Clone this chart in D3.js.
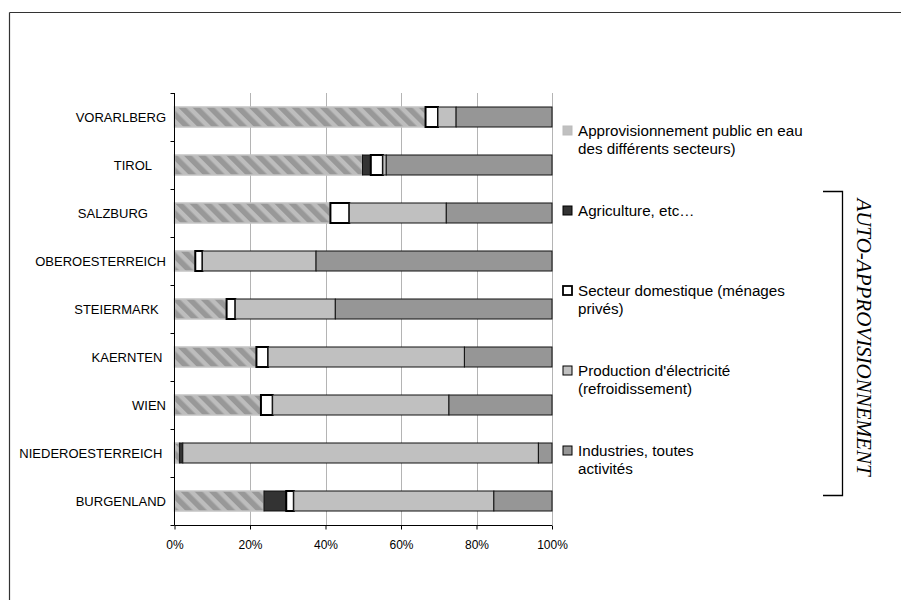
<!DOCTYPE html>
<html>
<head>
<meta charset="utf-8">
<script src="https://cdn.jsdelivr.net/npm/d3@7"></script>
<style>
  html, body { margin: 0; padding: 0; background: #fff; }
  svg { display: block; font-family: "Liberation Sans", Arial, sans-serif; }
</style>
</head>
<body>
<svg id="chart" width="901" height="600"></svg>
<script>
// ---- data ----
// category labels as in the source sheet (some carry trailing spaces)
const categories = ["VORARLBERG", "TIROL    ", "SALZBURG     ", "OBEROESTERREICH", "STEIERMARK  ",
                    "KAERNTEN ", "WIEN", "NIEDEROESTERREICH ", "BURGENLAND"];
const publicSupply = [66.5, 49.8, 41.3, 5.5, 13.8, 21.7, 22.9, 1.3, 23.7];
const agriculture  = [0, 2.2, 0, 0, 0, 0, 0, 0.9, 5.9];
const domestic     = [3.3, 3.2, 5.0, 1.9, 2.3, 3.1, 3.1, 0, 2.0];
const electricity  = [4.8, 0.9, 25.7, 30.1, 26.5, 52.0, 46.7, 94.2, 53.0];
const industry     = [25.4, 43.9, 28.0, 62.5, 57.4, 23.2, 27.3, 3.6, 15.4];
const seriesNames = [
  ["Approvisionnement public en eau", "des différents secteurs)"],
  ["Agriculture, etc…"],
  ["Secteur domestique (ménages", "privés)"],
  ["Production d'électricité", "(refroidissement)"],
  ["Industries, toutes", "activités"]
];
const xTicks = [0, 20, 40, 60, 80, 100];
const bracketLabel = "AUTO-APPROVISIONNEMENT";

// ---- build table ----
const keys = ["pub", "agr", "dom", "ele", "ind"];
const table = categories.map((c, i) => ({
  cat: c, pub: publicSupply[i], agr: agriculture[i], dom: domestic[i],
  ele: electricity[i], ind: industry[i]
}));
const stacked = d3.stack().keys(keys)(table);

const styles = {
  pub: { fill: "url(#hatch)", stroke: "#c4c4c4", sw: 1.5 },
  agr: { fill: "#333333", stroke: "#111", sw: 1 },
  dom: { fill: "#ffffff", stroke: "#000", sw: 2 },
  ele: { fill: "#c0c0c0", stroke: "#111", sw: 1 },
  ind: { fill: "#969696", stroke: "#111", sw: 1 }
};

const svg = d3.select("#chart");
const defs = svg.append("defs");
const pat = defs.append("pattern")
  .attr("id", "hatch").attr("patternUnits", "userSpaceOnUse")
  .attr("width", 10).attr("height", 10)
  .attr("patternTransform", "rotate(-45)");
pat.append("rect").attr("width", 10).attr("height", 10).attr("fill", "#bdbdbd");
pat.append("rect").attr("width", 5.5).attr("height", 10).attr("fill", "#989898");

// outer frame
svg.append("line").attr("x1", 9.5).attr("y1", 12.5).attr("x2", 901).attr("y2", 12.5)
  .attr("stroke", "#333").attr("stroke-width", 1.2);
svg.append("line").attr("x1", 9.5).attr("y1", 12.5).attr("x2", 9.5).attr("y2", 600)
  .attr("stroke", "#333").attr("stroke-width", 1.2);

const x = d3.scaleLinear().domain([0, 100]).range([174.5, 552]);
const y = d3.scaleBand().domain(categories).range([93, 525])
  .paddingInner(28 / 48).paddingOuter(14 / 48);

// gridlines
svg.append("g").selectAll("line").data(xTicks.filter(t => t > 0)).join("line")
  .attr("x1", d => Math.round(x(d)) + 0.5).attr("x2", d => Math.round(x(d)) + 0.5)
  .attr("y1", 93).attr("y2", 525)
  .attr("stroke", "#b4b4b4").attr("stroke-width", 1);

// bars
const gBars = svg.append("g");
stacked.forEach(layer => {
  const st = styles[layer.key];
  gBars.append("g").selectAll("rect")
    .data(layer.filter(d => d[1] - d[0] > 0))
    .join("rect")
    .attr("x", d => x(d[0]))
    .attr("width", d => x(d[1]) - x(d[0]))
    .attr("y", d => y(d.data.cat))
    .attr("height", y.bandwidth())
    .attr("fill", st.fill)
    .attr("stroke", st.stroke)
    .attr("stroke-width", st.sw);
});

// y axis
const yAxis = d3.axisLeft(y).tickSize(0).tickFormat(() => "");
const gy = svg.append("g").attr("transform", "translate(174.5,0)").call(yAxis);
gy.select(".domain").attr("stroke", "#000").attr("d", "M0,93V525.5");
// boundary ticks
const bounds = d3.range(categories.length + 1).map(i => 93 + i * y.step());
svg.append("g").selectAll("line").data(bounds).join("line")
  .attr("x1", 170.5).attr("x2", 174.5)
  .attr("y1", d => d + 0.5).attr("y2", d => d + 0.5)
  .attr("stroke", "#000");
// category labels
svg.append("g").selectAll("text").data(categories).join("text")
  .attr("x", 166)
  .attr("y", d => y(d) + y.bandwidth() / 2)
  .attr("dy", "0.36em")
  .attr("text-anchor", "end")
  .attr("xml:space", "preserve")
  .style("white-space", "pre")
  .style("font-size", "13px")
  .style("font-family", "'Liberation Sans', Arial, sans-serif")
  .attr("fill", "#000")
  .text(d => d);

// x axis
const xAxis = d3.axisBottom(x).tickValues(xTicks).tickSize(4)
  .tickFormat(d => d + "%");
const gx = svg.append("g").attr("transform", "translate(0,525.5)").call(xAxis);
gx.select(".domain").attr("stroke", "#000").attr("d", "M174.5,0H552");
gx.selectAll(".tick line").attr("stroke", "#000");
gx.selectAll(".tick text").attr("fill", "#000")
  .style("font-size", "12px")
  .style("font-family", "'Liberation Sans', Arial, sans-serif").attr("dy", "1.35em");

// legend
const legend = svg.append("g");
const legStyles = keys.map(k => styles[k]);
seriesNames.forEach((lines, i) => {
  const cy = 131 + i * 80;
  const st = legStyles[i];
  legend.append("rect").attr("x", 563).attr("y", cy - 5).attr("width", 9).attr("height", 9)
    .attr("fill", i === 0 ? "#c0c0c0" : st.fill)
    .attr("stroke", i === 0 ? "#bbb" : "#000")
    .attr("stroke-width", i === 2 ? 1.8 : 1);
  const t = legend.append("text").attr("x", 578).attr("y", cy)
    .style("font-size", "15.2px")
    .style("font-family", "'Liberation Sans', Arial, sans-serif")
    .attr("fill", "#000");
  lines.forEach((ln, j) => {
    t.append("tspan").attr("x", 578).attr("dy", j === 0 ? "0.36em" : 18).text(ln);
  });
});

// bracket
svg.append("path").attr("d", "M823,191.5H842.5V495.5H823")
  .attr("fill", "none").attr("stroke", "#000").attr("stroke-width", 1.3);
svg.append("text")
  .attr("transform", "translate(857,337) rotate(90)")
  .attr("text-anchor", "middle")
  .style("font-family", "'Liberation Serif', 'Times New Roman', serif")
  .style("font-style", "italic")
  .style("font-size", "21px")
  .attr("fill", "#000")
  .text(bracketLabel);
</script>
</body>
</html>
